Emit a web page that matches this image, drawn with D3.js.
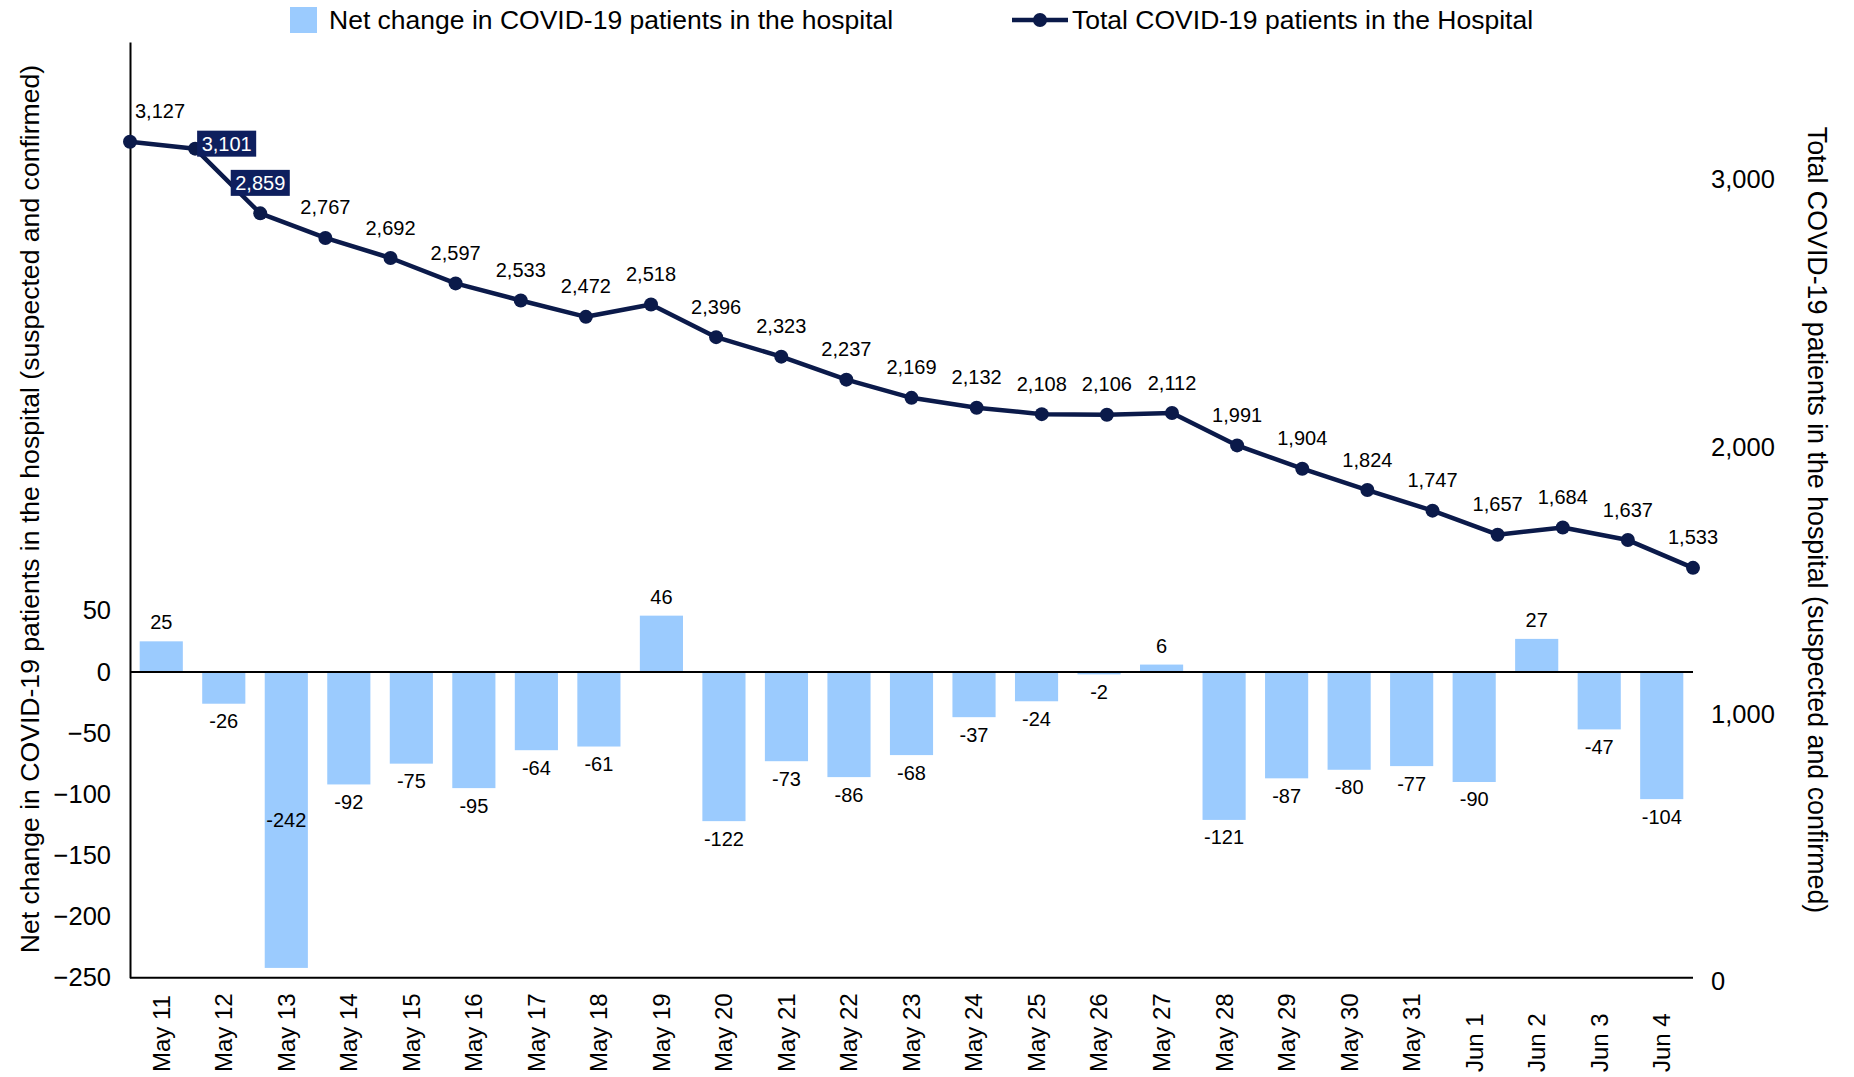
<!DOCTYPE html>
<html>
<head>
<meta charset="utf-8">
<script src="https://cdn.jsdelivr.net/npm/d3@7"></script>
<style>
  body { margin: 0; background: #fff; }
  text { font-family: "Liberation Sans", Arial, sans-serif; fill: #000; }
</style>
</head>
<body>
<script>
// data
var dates = ["May 11", "May 12", "May 13", "May 14", "May 15", "May 16", "May 17", "May 18",
  "May 19", "May 20", "May 21", "May 22", "May 23", "May 24", "May 25", "May 26", "May 27",
  "May 28", "May 29", "May 30", "May 31", "Jun 1", "Jun 2", "Jun 3", "Jun 4"];
var netChange = [25, -26, -242, -92, -75, -95, -64, -61, 46, -122, -73, -86, -68, -37, -24,
  -2, 6, -121, -87, -80, -77, -90, 27, -47, -104];
var totals = [3127, 3101, 2859, 2767, 2692, 2597, 2533, 2472, 2518, 2396, 2323, 2237, 2169,
  2132, 2108, 2106, 2112, 1991, 1904, 1824, 1747, 1657, 1684, 1637, 1533];
var leftTicks = [-250, -200, -150, -100, -50, 0, 50];
var rightTicks = [0, 1000, 2000, 3000];
var barName = "Net change in COVID-19 patients in the hospital";
var lineName = "Total COVID-19 patients in the Hospital";
var leftTitle = "Net change in COVID-19 patients in the hospital (suspected and confirmed)";
var rightTitle = "Total COVID-19 patients in the hospital (suspected and confirmed)";

var w = 1854, h = 1077;
// note: "top" is taken by window.top, so plotTop / plotBottom
var x0 = 130, x1 = 1693, plotTop = 42, plotBottom = 977.7;
var barColor = "#9bcbfe", navy = "#0b1a4a", boxColor = "#0e1f5e";
var fmt = d3.format(",");

var svg = d3.select("body").append("svg")
  .attr("width", w)
  .attr("height", h);

var xBand = d3.scaleBand().domain(dates).range([x0, x1])
  .paddingInner(0.31).paddingOuter(0.155);
// line series sits on tick marks of its own axis
var xPoint = d3.scalePoint().domain(dates).range([x0, x1]);
var yL = d3.scaleLinear().domain([-250, 515]).range([plotBottom, plotTop]);
var yR = d3.scaleLinear().domain([0, 3500]).range([plotBottom, plotTop]);

// bars
svg.selectAll(".bar")
  .data(netChange)
  .enter()
  .append("rect")
  .attr("class", "bar")
  .attr("x", (d, i) => xBand(dates[i]))
  .attr("width", xBand.bandwidth())
  .attr("y", d => yL(Math.max(0, d)))
  .attr("height", d => Math.abs(yL(d) - yL(0)))
  .attr("fill", barColor);

// zero line + axis lines
svg.append("line")
  .attr("x1", x0).attr("x2", x1)
  .attr("y1", yL(0)).attr("y2", yL(0))
  .attr("stroke", "#000").attr("stroke-width", 2);
svg.append("line")
  .attr("x1", x0).attr("x2", x1)
  .attr("y1", plotBottom).attr("y2", plotBottom)
  .attr("stroke", "#000").attr("stroke-width", 2);

var leftAxis = svg.append("g")
  .attr("transform", `translate(${x0}, 0)`)
  .call(d3.axisLeft(yL).tickValues(leftTicks).tickSize(0).tickPadding(19).tickFormat(d3.format("d")));
leftAxis.select(".domain").attr("stroke-width", 2);
leftAxis.selectAll("text").style("font-size", "25.5px").attr("font-family", null);

var rightAxis = svg.append("g")
  .attr("transform", `translate(${x1}, 0)`)
  .call(d3.axisRight(yR).tickValues(rightTicks).tickSize(0).tickPadding(18).tickFormat(fmt));
rightAxis.select(".domain").remove();
rightAxis.selectAll("text").style("font-size", "25.5px").attr("font-family", null)
  .attr("dy", "0.48em");

// x labels, rotated, all starting at the same bottom line
svg.selectAll(".xlab")
  .data(dates)
  .enter()
  .append("text")
  .attr("class", "xlab")
  .attr("transform", d => `translate(${xBand(d) + xBand.bandwidth() / 2}, 1072) rotate(-90)`)
  .attr("dy", "0.35em")
  .style("font-size", "24px")
  .text(d => d);

// bar labels: outside end, centred in the bar if it would leave the plot
svg.selectAll(".barlab")
  .data(netChange)
  .enter()
  .append("text")
  .attr("class", "barlab")
  .attr("x", (d, i) => xBand(dates[i]) + xBand.bandwidth() / 2)
  .attr("y", d => {
    if (d >= 0) return yL(d) - 19;
    var y = yL(d) + 17.5;
    return y + 10 > plotBottom ? yL(d / 2) : y;
  })
  .attr("dy", "0.35em")
  .attr("text-anchor", "middle")
  .style("font-size", "20px")
  .text(d => d);

// line
var line = d3.line()
  .x((d, i) => xPoint(dates[i]))
  .y(d => yR(d));
svg.append("path")
  .datum(totals)
  .attr("d", line)
  .attr("fill", "none")
  .attr("stroke", navy)
  .attr("stroke-width", 4.5)
  .attr("stroke-linejoin", "round");
svg.selectAll(".dot")
  .data(totals)
  .enter()
  .append("circle")
  .attr("cx", (d, i) => xPoint(dates[i]))
  .attr("cy", d => yR(d))
  .attr("r", 7)
  .attr("fill", navy);

// line labels; two of them highlighted in boxes
var boxed = { 1: "right", 2: "above" };
totals.forEach((v, i) => {
  var px = xPoint(dates[i]), py = yR(v);
  var t = svg.append("text")
    .attr("text-anchor", "middle")
    .attr("dy", "0.35em")
    .style("font-size", "20px")
    .text(fmt(v));
  var tw = t.node().getComputedTextLength();
  var cx = Math.max(px, x0 + tw / 2 + 5), cy = py - 30.5;
  if (boxed[i] == "right") { cx = px + 2 + tw / 2 + 4.5; cy = py - 5; }
  t.attr("x", cx).attr("y", cy);
  if (boxed[i]) {
    svg.insert("rect", function() { return t.node(); })
      .attr("x", cx - tw / 2 - 4.5)
      .attr("y", cy - 13)
      .attr("width", tw + 9)
      .attr("height", 26)
      .attr("fill", boxColor);
    t.style("fill", "#fff");
  }
});

// axis titles
svg.append("text")
  .attr("transform", "translate(30, 509) rotate(-90)")
  .attr("text-anchor", "middle")
  .attr("dy", "0.35em")
  .style("font-size", "26.6px")
  .text(leftTitle);
svg.append("text")
  .attr("transform", "translate(1817, 520) rotate(90)")
  .attr("text-anchor", "middle")
  .attr("dy", "0.35em")
  .style("font-size", "26.8px")
  .text(rightTitle);

// legend
var legend = svg.append("g").attr("class", "legend");
legend.append("rect")
  .attr("x", 290).attr("y", 7)
  .attr("width", 27).attr("height", 26)
  .attr("fill", barColor);
legend.append("text")
  .attr("x", 329).attr("y", 20)
  .attr("dy", "0.35em")
  .style("font-size", "26.5px")
  .text(barName);
legend.append("line")
  .attr("x1", 1012).attr("x2", 1068)
  .attr("y1", 20).attr("y2", 20)
  .attr("stroke", navy).attr("stroke-width", 4.5);
legend.append("circle")
  .attr("cx", 1040).attr("cy", 20).attr("r", 7)
  .attr("fill", navy);
legend.append("text")
  .attr("x", 1072).attr("y", 20)
  .attr("dy", "0.35em")
  .style("font-size", "26.5px")
  .text(lineName);
</script>
</body>
</html>
